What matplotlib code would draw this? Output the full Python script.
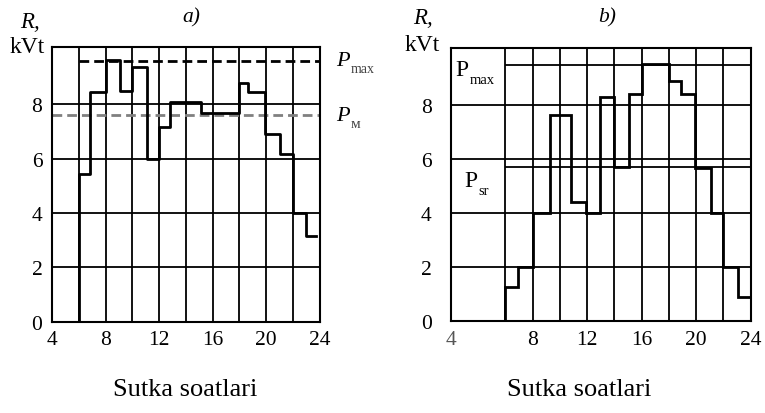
import numpy as np
import matplotlib
matplotlib.use('Agg')
import matplotlib.pyplot as plt

plt.rcParams['font.family'] = ['Liberation Serif', 'DejaVu Serif']

# a) hourly load profile: step edges (hours) and power levels (kVt)
a_edges = [6, 6.85, 8, 9.07, 10, 11.07, 12, 12.8, 15.15, 18, 18.65, 19.9, 21.0, 22, 23.0, 23.75]
a_power = [5.43, 8.43, 9.63, 8.49, 9.35, 6.0, 7.15, 8.07, 7.67, 8.78, 8.43, 6.9, 6.17, 4.0, 3.14]
a_pmax = 9.6
a_psr = 7.6

# b) load profile with its levels
b_edges = [6, 6.92, 8, 9.25, 10.84, 11.93, 12.96, 14, 15.1, 16, 18, 18.9, 19.9, 21.1, 22, 23.04, 24]
b_power = [1.25, 2.0, 4.0, 7.62, 4.4, 4.0, 8.3, 5.7, 8.4, 9.5, 8.87, 8.4, 5.68, 4.0, 2.0, 0.9]
b_pmax = 9.47
b_psr = 5.7

y_ticks = [0, 2, 4, 6, 8]
x_labels = ['4', '8', '12', '16', '20', '24']

fig = plt.figure(figsize=(7.65, 4.14), dpi=100)
ax_a = fig.add_axes([0.068, 0.2205, 0.350, 0.6635])
ax_b = fig.add_axes([0.5895, 0.2215, 0.3918, 0.660])


def frame(ax, xmin, xtick_pos, ypad):
    ax.set_xlim(xmin, 24)
    ax.set_ylim(0, 10.1)
    ax.set_xticks(xtick_pos)
    ax.set_xticklabels(x_labels)
    ax.set_xticks(np.arange(6, 24, 2), minor=True)
    ax.set_yticks(y_ticks)
    ax.tick_params(which='both', length=0, labelsize=15.5)
    ax.tick_params(axis='x', pad=6)
    ax.tick_params(axis='y', pad=ypad)
    ax.grid(which='both', color='black', lw=1.3)
    ax.set_axisbelow(True)
    for s in ax.spines.values():
        s.set_linewidth(1.5)


frame(ax_a, 4, [4, 8, 12, 16, 20, 24], 7)
frame(ax_b, 2, [2, 8, 12, 16, 20, 24], 14)
ax_b.get_xticklabels()[0].set_color('#555555')

# panel a
ax_a.hlines(a_pmax, 6, 24, colors='black', lw=2, linestyles=(0, (3.5, 1.8)))
ax_a.hlines(a_psr, 4, 24, colors='#808080', lw=2, linestyles=(0, (3.5, 1.8)))
ax_a.plot([a_edges[0]] + a_edges, [0] + a_power + [a_power[-1]],
          drawstyle='steps-post', color='black', lw=2)
ax_a.text(25.2, a_pmax, 'P', style='italic', fontsize=16, va='center', clip_on=False)
ax_a.text(26.3, a_pmax - 0.3, 'max', fontsize=10, va='center', clip_on=False, color='#444444')
ax_a.text(25.2, a_psr, 'P', style='italic', fontsize=16, va='center', clip_on=False)
ax_a.text(26.3, a_psr - 0.3, 'м', fontsize=11, va='center', clip_on=False, color='#444444')
ax_a.text(0.52, 1.11, 'a)', style='italic', fontsize=15.5, ha='center', va='center',
          transform=ax_a.transAxes)

# panel b
ax_b.hlines([b_pmax, b_psr], 6, 24, colors='black', lw=1.3)
ax_b.stairs(b_power, b_edges, baseline=0, color='black', lw=2)
ax_b.text(2.35, 9.3, 'P', fontsize=17, va='center')
ax_b.text(3.4, 8.95, 'max', fontsize=10.5, va='center')
ax_b.text(2.95, 5.2, 'P', fontsize=17, va='center')
ax_b.text(4.0, 4.85, 'sr', fontsize=10.5, va='center')
ax_b.text(0.52, 1.115, 'b)', style='italic', fontsize=15.5, ha='center', va='center',
          transform=ax_b.transAxes)

# axis captions
fig.text(0.039, 0.945, 'R,', style='italic', fontsize=16.5, ha='center', va='center')
fig.text(0.036, 0.885, 'kVt', fontsize=17, ha='center', va='center')
fig.text(0.553, 0.955, 'R,', style='italic', fontsize=16.5, ha='center', va='center')
fig.text(0.552, 0.891, 'kVt', fontsize=17, ha='center', va='center')
fig.text(0.242, 0.058, 'Sutka soatlari', fontsize=19, ha='center', va='center')
fig.text(0.757, 0.058, 'Sutka soatlari', fontsize=19, ha='center', va='center')

fig.savefig('out.png', dpi=100)
